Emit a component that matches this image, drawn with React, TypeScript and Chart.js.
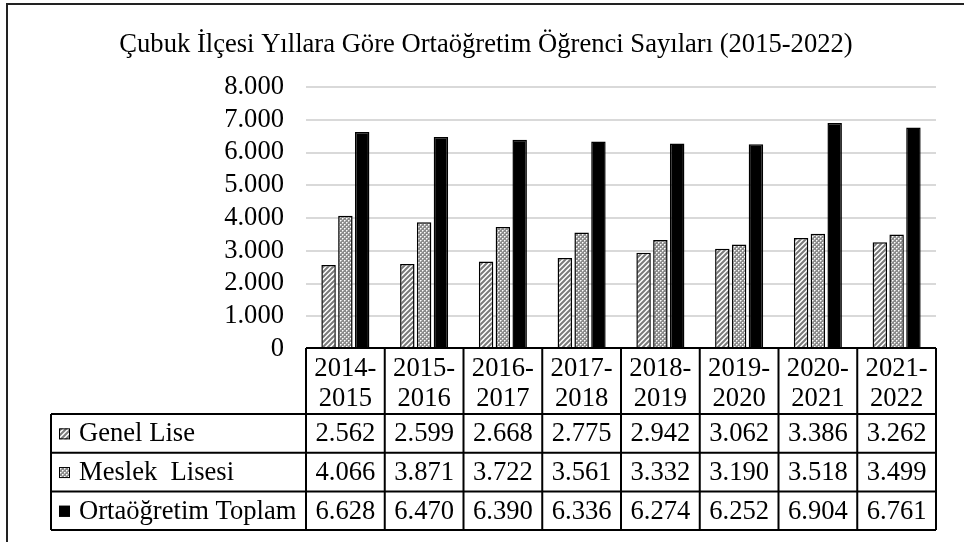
import React, { useEffect, useRef } from 'react';
import { Chart, registerables } from 'chart.js';

Chart.register(...registerables);

const chartTitle = 'Çubuk İlçesi Yıllara Göre Ortaöğretim Öğrenci Sayıları (2015-2022)';
const categories: string[][] = [
  ['2014-', '2015'],
  ['2015-', '2016'],
  ['2016-', '2017'],
  ['2017-', '2018'],
  ['2018-', '2019'],
  ['2019-', '2020'],
  ['2020-', '2021'],
  ['2021-', '2022'],
];
const seriesNames = ['Genel Lise', 'Meslek  Lisesi', 'Ortaöğretim Toplam'];
const genelLise = [2562, 2599, 2668, 2775, 2942, 3062, 3386, 3262];
const meslekLisesi = [4066, 3871, 3722, 3561, 3332, 3190, 3518, 3499];
const ortaogretimToplam = [6628, 6470, 6390, 6336, 6274, 6252, 6904, 6761];
const yMin = 0;
const yMax = 8000;
const yStep = 1000;

const FONT = '"Liberation Serif", "Times New Roman", serif';
const FS = 26.6;

function fmt(v: number): string {
  if (v < 1000) return String(v);
  return Math.floor(v / 1000) + '.' + String(v % 1000).padStart(3, '0');
}

function makeStripe(ctx: CanvasRenderingContext2D): CanvasPattern | string {
  const c = document.createElement('canvas');
  c.width = 5;
  c.height = 5;
  const g = c.getContext('2d')!;
  g.fillStyle = '#ffffff';
  g.fillRect(0, 0, 5, 5);
  g.strokeStyle = '#7a7a7a';
  g.lineWidth = 2;
  g.beginPath();
  g.moveTo(-1, 6);
  g.lineTo(6, -1);
  g.moveTo(-3, 3);
  g.lineTo(3, -3);
  g.moveTo(2, 8);
  g.lineTo(8, 2);
  g.stroke();
  return ctx.createPattern(c, 'repeat') || '#999';
}

function makeDots(ctx: CanvasRenderingContext2D): CanvasPattern | string {
  const c = document.createElement('canvas');
  c.width = 4;
  c.height = 4;
  const g = c.getContext('2d')!;
  g.fillStyle = '#8c8c8c';
  g.fillRect(0, 0, 4, 4);
  g.fillStyle = '#ffffff';
  g.fillRect(0, 0, 1, 1);
  g.fillRect(2, 2, 1, 1);
  g.fillStyle = '#c8c8c8';
  g.fillRect(1, 0, 1, 1);
  g.fillRect(0, 1, 1, 1);
  g.fillRect(3, 2, 1, 1);
  g.fillRect(2, 3, 1, 1);
  return ctx.createPattern(c, 'repeat') || '#aaa';
}

export default function App() {
  const ref = useRef<HTMLCanvasElement | null>(null);

  useEffect(() => {
    const canvas = ref.current;
    if (!canvas) return;
    const ctx = canvas.getContext('2d')!;
    const stripe = makeStripe(ctx);
    const dots = makeDots(ctx);
    const fills: (CanvasPattern | string)[] = [stripe, dots, '#000000'];
    const values = [genelLise, meslekLisesi, ortaogretimToplam];

    const decoPlugin = {
      id: 'deco',
      beforeDraw(chart: any) {
        const c = chart.ctx as CanvasRenderingContext2D;
        c.save();
        c.fillStyle = '#ffffff';
        c.fillRect(0, 0, chart.width, chart.height);
        c.strokeStyle = '#222';
        c.lineWidth = 2;
        c.strokeRect(7, 4, chart.width + 20, chart.height + 20);
        c.fillStyle = '#000';
        c.font = FS + 'px ' + FONT;
        c.textAlign = 'center';
        c.textBaseline = 'middle';
        c.fillText(chartTitle, 486, 45);
        c.restore();
      },
      afterDraw(chart: any) {
        const c = chart.ctx as CanvasRenderingContext2D;
        const area = chart.chartArea;
        const xs = chart.scales.x;
        const n = categories.length;
        const w = (area.right - area.left) / n;
        const top = area.bottom - 1;
        const headerH = 66;
        const rowH = 38.7;
        const legendLeft = 51;
        const tableBottom = top + headerH + rowH * 3;
        c.save();
        c.fillStyle = '#ffffff';
        c.fillRect(area.left, top, area.right - area.left, tableBottom - top);
        c.fillRect(legendLeft, top + headerH, area.left - legendLeft, rowH * 3);
        c.strokeStyle = '#000';
        c.lineWidth = 2;
        c.beginPath();
        c.moveTo(area.left, top);
        c.lineTo(area.right, top);
        for (let r = 0; r <= 3; r++) {
          const y = top + headerH + rowH * r;
          c.moveTo(legendLeft, y);
          c.lineTo(area.right, y);
        }
        for (let i = 0; i <= n; i++) {
          const x = area.left + w * i;
          c.moveTo(x, top);
          c.lineTo(x, tableBottom);
        }
        c.moveTo(legendLeft, top + headerH);
        c.lineTo(legendLeft, tableBottom);
        c.stroke();

        c.fillStyle = '#000';
        c.font = FS + 'px ' + FONT;
        c.textAlign = 'center';
        c.textBaseline = 'middle';
        for (let i = 0; i < n; i++) {
          const cx = xs.getPixelForValue(i);
          c.fillText(categories[i][0], cx, top + 21);
          c.fillText(categories[i][1], cx, top + 51);
          for (let r = 0; r < 3; r++) {
            const cy = top + headerH + rowH * r + rowH / 2 + 1;
            c.fillText(fmt(values[r][i]), cx, cy);
          }
        }
        c.textAlign = 'left';
        for (let r = 0; r < 3; r++) {
          const cy = top + headerH + rowH * r + rowH / 2;
          c.fillStyle = fills[r] as any;
          c.fillRect(59, cy - 5, 11, 11);
          c.lineWidth = 1;
          c.strokeStyle = '#000';
          c.strokeRect(59.5, cy - 4.5, 10, 10);
          c.fillStyle = '#000';
          c.fillText(seriesNames[r], 79, cy + 1);
        }
        c.restore();
      },
    };

    const chart = new Chart(canvas, {
      type: 'bar',
      data: {
        labels: categories.map((c) => c.join('')),
        datasets: seriesNames.map((name, k) => ({
          label: name,
          data: values[k],
          backgroundColor: fills[k] as any,
          borderColor: '#000000',
          borderWidth: 1.5,
          categoryPercentage: 0.64,
          barPercentage: 0.86,
        })),
      },
      options: {
        animation: false,
        responsive: true,
        maintainAspectRatio: false,
        layout: { padding: { left: 0, top: 87, right: 28, bottom: 193 } },
        plugins: {
          legend: { display: false },
          title: { display: false },
          tooltip: { enabled: false },
        },
        scales: {
          x: { display: false },
          y: {
            min: yMin,
            max: yMax,
            ticks: {
              stepSize: yStep,
              autoSkip: false,
              callback: (v: any) => fmt(Number(v)),
              color: '#000',
              font: { family: FONT, size: FS },
              padding: 22,
            },
            grid: { color: '#d9d9d9', lineWidth: 2, drawTicks: false },
            border: { display: false },
            afterFit: (s: any) => {
              s.width = 306;
            },
          },
        },
      },
      plugins: [decoPlugin],
    });
    return () => chart.destroy();
  }, []);

  return (
    <div style={{ position: 'absolute', left: 0, top: 0, width: 964, height: 542 }}>
      <canvas ref={ref} />
    </div>
  );
}
